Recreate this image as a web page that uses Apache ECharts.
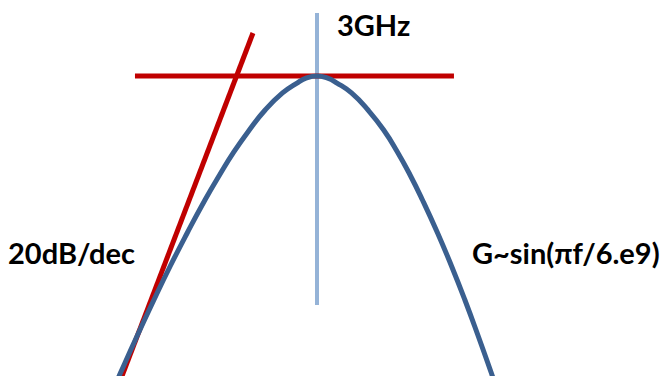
<!DOCTYPE html>
<html>
<head>
<meta charset="utf-8">
<title>G ~ sin(pi f / 6e9)</title>
<script src="https://cdn.jsdelivr.net/npm/echarts@6/dist/echarts.min.js"></script>
<style>
  html, body { margin: 0; padding: 0; background: #fff; }
  #chart { width: 669px; height: 376px; }
</style>
</head>
<body>
<div id="chart"></div>
<script>
// gain curve, frequency in GHz (log axis) and gain in dB
var gainFreqGHz = [0.951, 0.970, 1.065, 1.173, 1.289, 1.421, 1.574, 1.712, 1.859, 2.032, 2.226, 2.460, 2.674, 2.824, 3.0,
                   3.178, 3.366, 3.659, 4.024, 4.404, 4.766, 5.127, 5.506, 6.006, 6.507, 7.029, 7.588, 8.168, 8.296];
var gainDb = [-5.802, -5.649, -4.962, -4.275, -3.626, -2.996, -2.366, -1.889, -1.450, -1.031, -0.649, -0.324, -0.134, -0.038, 0,
              -0.038, -0.134, -0.324, -0.649, -1.031, -1.450, -1.889, -2.366, -2.996, -3.626, -4.275, -4.962, -5.649, -5.802];

// 20dB/dec asymptote
var asymFreqGHz = [0.968, 2.075];
var asymDb = [-5.8, 0.82];

// flat 0 dB line at the peak
var flatFreqGHz = [1.052, 6.6];
var flatDb = [0, 0];

// 3GHz marker
var markerFreqGHz = [3, 3];
var markerDb = [-4.37, 1.2];

// visible window
var freqMin = 0.4837, freqMax = 22.76;
var dbMin = -5.725, dbMax = 1.45;

function pairs(xs, ys) {
    var out = [];
    for (var i = 0; i < xs.length; i++) out.push([xs[i], ys[i]]);
    return out;
}

var labelFont = 'bold 29px Lato, "Open Sans", sans-serif';

var myChart = echarts.init(document.getElementById('chart'), null, { renderer: 'svg' });

var option = {
    animation: false,
    backgroundColor: '#ffffff',
    grid: { left: 0, right: 0, top: 0, bottom: 0 },
    xAxis: { type: 'log', logBase: 10, min: freqMin, max: freqMax, show: false },
    yAxis: { type: 'value', min: dbMin, max: dbMax, show: false },
    series: [
        {
            name: 'marker',
            type: 'line',
            data: pairs(markerFreqGHz, markerDb),
            showSymbol: false,
            lineStyle: { color: '#95b3d7', width: 4 },
            z: 1
        },
        {
            name: 'flat',
            type: 'line',
            data: pairs(flatFreqGHz, flatDb),
            showSymbol: false,
            lineStyle: { color: '#c00000', width: 5 },
            z: 2
        },
        {
            name: 'asymptote',
            type: 'line',
            data: pairs(asymFreqGHz, asymDb),
            showSymbol: false,
            lineStyle: { color: '#c00000', width: 5 },
            z: 3
        },
        {
            name: 'gain',
            type: 'line',
            data: pairs(gainFreqGHz, gainDb),
            showSymbol: false,
            smooth: 0.5,
            lineStyle: { color: '#3a5f8f', width: 5 },
            z: 4
        }
    ],
    graphic: [
        { type: 'text', left: 337, top: 10, style: { text: '3GHz', font: labelFont, fill: '#000' } },
        { type: 'text', left: 8, top: 238, style: { text: '20dB/dec', font: labelFont, fill: '#000' } },
        { type: 'text', left: 472, top: 238, style: { text: 'G~sin(πf/6.e9)', font: labelFont, fill: '#000' } }
    ]
};

myChart.setOption(option);
</script>
</body>
</html>
